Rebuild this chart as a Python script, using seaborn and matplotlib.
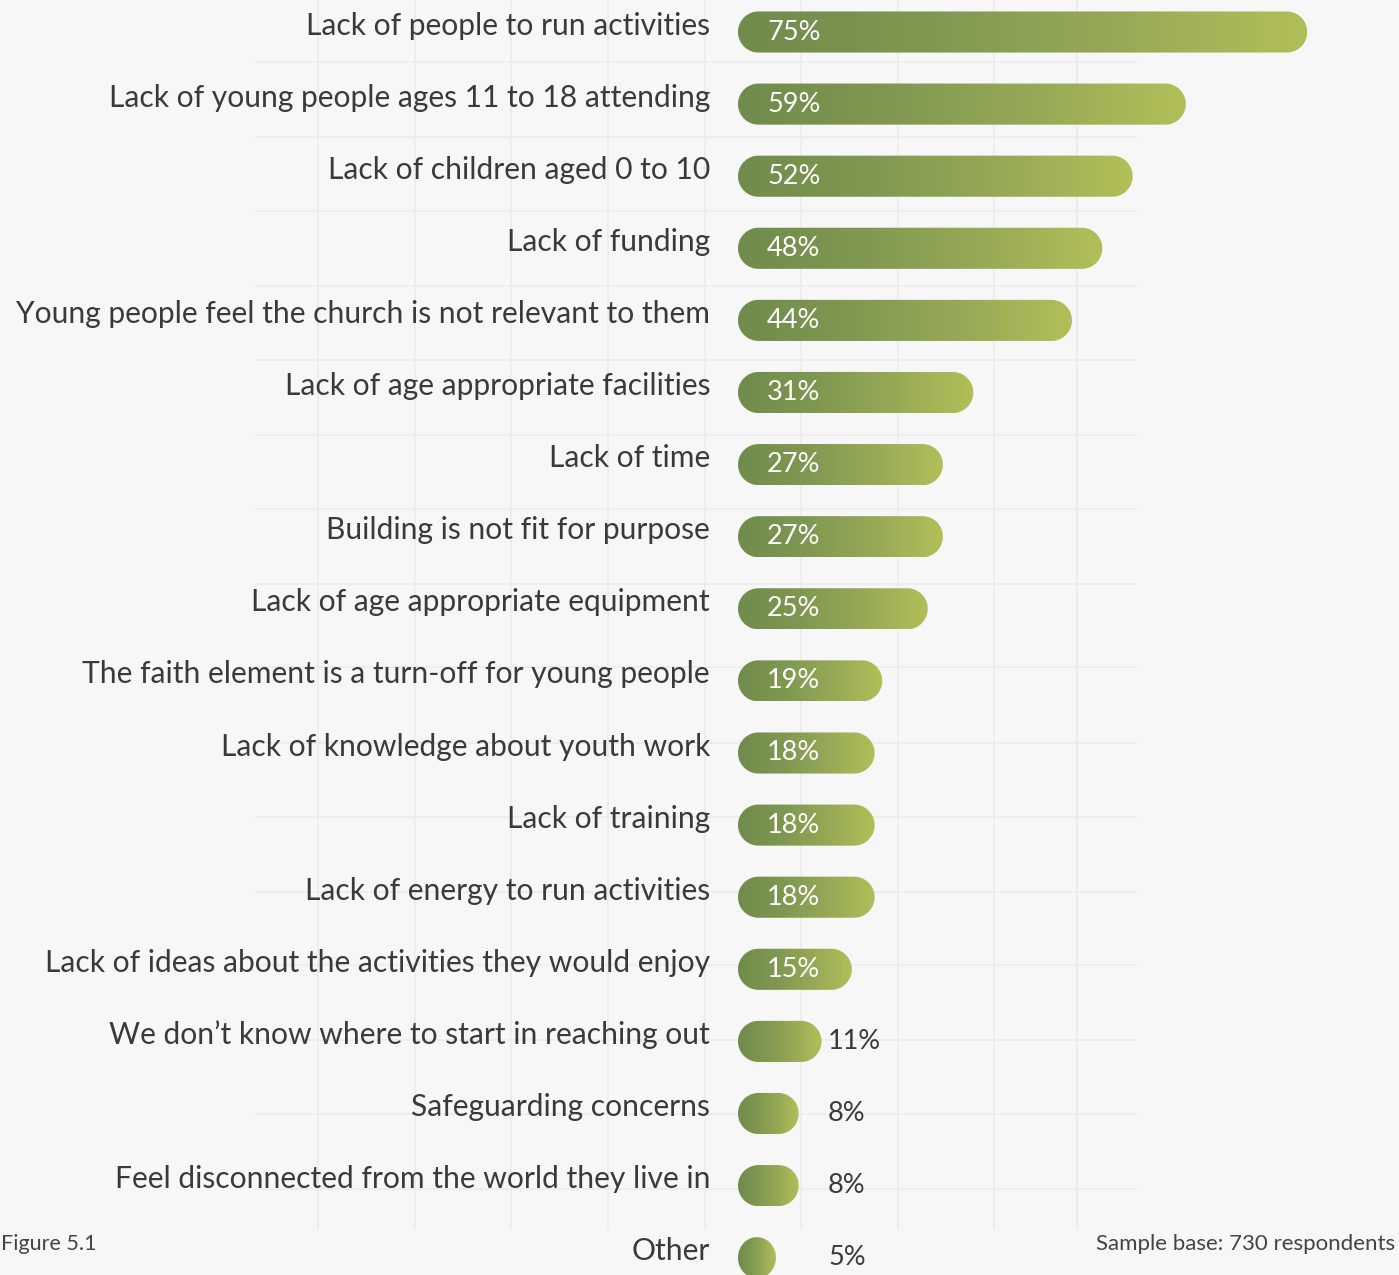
import numpy as np
import pandas as pd
import matplotlib
matplotlib.use("Agg")
import matplotlib.pyplot as plt
from matplotlib.patches import Polygon
from matplotlib.colors import LinearSegmentedColormap
import seaborn as sns

# Barriers to youth work, share of churches citing each (%)
categories = [
    "Lack of people to run activities",
    "Lack of young people ages 11 to 18 attending",
    "Lack of children aged 0 to 10",
    "Lack of funding",
    "Young people feel the church is not relevant to them",
    "Lack of age appropriate facilities",
    "Lack of time",
    "Building is not fit for purpose",
    "Lack of age appropriate equipment",
    "The faith element is a turn-off for young people",
    "Lack of knowledge about youth work",
    "Lack of training",
    "Lack of energy to run activities",
    "Lack of ideas about the activities they would enjoy",
    "We don\u2019t know where to start in reaching out",
    "Safeguarding concerns",
    "Feel disconnected from the world they live in",
    "Other",
]
values = [75, 59, 52, 48, 44, 31, 27, 27, 25, 19, 18, 18, 18, 15, 11, 8, 8, 5]

figure_note = "Figure 5.1"
sample_note = "Sample base: 730 respondents"

W, H = 1399, 1275
BG = "#f7f7f7"
TEXT = "#3a3a3a"
DARK = "#708b4b"
LIGHT = "#b2bf58"

sns.set_theme(style="white")
plt.rcParams["font.family"] = ["Lato", "DejaVu Sans"]

fig = plt.figure(figsize=(W / 100, H / 100), dpi=100, facecolor=BG)

# faint decorative background grid
bg = fig.add_axes([255 / W, 1 - 1230 / H, (1137 - 255) / W, 1230 / H], zorder=0)
bg.set_facecolor(BG)
bg.set_xlim(255, 1137)
bg.set_ylim(1230, 0)
vgrid = [318, 415, 511, 608, 705, 801, 898, 994, 1077]
hgrid = [62, 137, 211, 286, 360, 435, 509, 584, 667, 743, 817, 892, 965, 1040, 1114, 1189]
bg.set_xticks(vgrid)
bg.set_yticks(hgrid)
bg.grid(True, color="#ebebeb", linewidth=1.2)
bg.tick_params(left=False, bottom=False, labelleft=False, labelbottom=False)
for s in bg.spines.values():
    s.set_visible(False)

# main chart axes spanning the figure
ax = fig.add_axes([0, 0, 1, 1], zorder=1)
ax.patch.set_alpha(0)

df = pd.DataFrame({"category": categories, "value": values})
sns.barplot(data=df, x="value", y="category", orient="h", width=0.57,
            color=DARK, ax=ax)

px_per_pct = 7.59
px_per_row = 72.1
x0_px = 738
xlim = (-x0_px / px_per_pct, (W - x0_px) / px_per_pct)
ylim = ((H - 32) / px_per_row, -32 / px_per_row)
ax.set_xlim(*xlim)
ax.set_ylim(*ylim)
ax.set_axis_off()

cmap = LinearSegmentedColormap.from_list("olive", [DARK, "#7f9851", "#97a956", LIGHT])
grad = np.linspace(0, 1, 256).reshape(1, -1)


def pill(x, y, w, h):
    """Polygon with semicircular ends (circular on screen)."""
    ry = h / 2
    rx = min(ry * px_per_row / px_per_pct, w / 2)
    yc = y + ry
    t = np.linspace(-np.pi / 2, np.pi / 2, 60)
    right = np.column_stack([x + w - rx + rx * np.cos(t), yc + ry * np.sin(t)])
    t2 = np.linspace(np.pi / 2, 3 * np.pi / 2, 60)
    left = np.column_stack([x + rx + rx * np.cos(t2), yc + ry * np.sin(t2)])
    return Polygon(np.vstack([right, left]), closed=True,
                   facecolor="none", edgecolor="none")


bars = list(ax.patches)
for bar in bars:
    x, y = bar.get_x(), bar.get_y()
    w, h = bar.get_width(), bar.get_height()
    bar.remove()
    shape = pill(x, y, w, h)
    ax.add_patch(shape)
    im = ax.imshow(grad, cmap=cmap, aspect="auto",
                   extent=(x, x + w, y + h, y), interpolation="bicubic",
                   zorder=2)
    im.set_clip_path(shape)

ax.set_xlim(*xlim)
ax.set_ylim(*ylim)

label_x = -(x0_px - 710) / px_per_pct
for i, (cat, val) in enumerate(zip(categories, values)):
    ax.text(label_x, i - 0.09, cat, ha="right", va="center",
            fontsize=21.6, color=TEXT, zorder=3)
    if val >= 15:
        ax.text(29 / px_per_pct, i, f"{val}%", ha="left", va="center",
                fontsize=19.5, color="white", zorder=3)
    else:
        ax.text(90 / px_per_pct, i, f"{val}%", ha="left", va="center",
                fontsize=19.5, color=TEXT, zorder=3)

fig.text(1 / W, 1 - 1244 / H, figure_note, ha="left", va="center",
         fontsize=15.5, color="#444444")
fig.text(1395 / W, 1 - 1244 / H, sample_note, ha="right", va="center",
         fontsize=16, color="#444444")

fig.savefig("out.png", dpi=100, facecolor=BG)
